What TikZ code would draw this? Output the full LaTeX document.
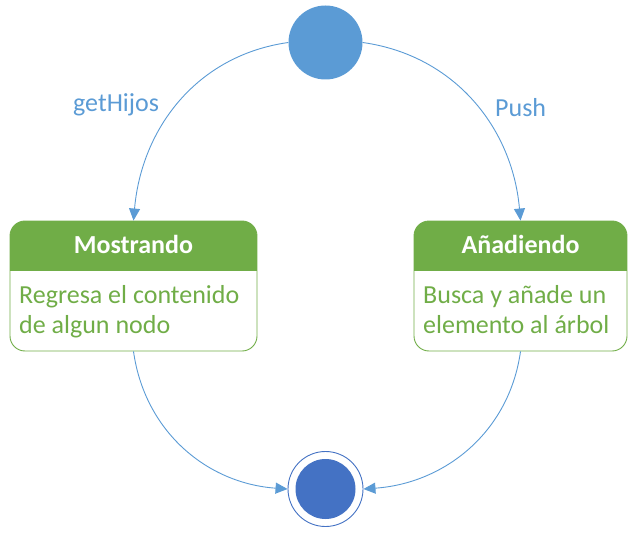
\documentclass[tikz,border=0pt]{standalone}
\usepackage{fontspec}
\setmainfont{Carlito}
\usetikzlibrary{arrows.meta}
\definecolor{lblue}{HTML}{5B9BD5}
\definecolor{dblue}{HTML}{4472C4}
\definecolor{mgreen}{HTML}{70AD47}
\tikzset{
  startst/.style={circle,fill=lblue,minimum size=74pt,inner sep=0pt},
  endst/.style={circle,draw=dblue,line width=0.9pt,fill=white,minimum size=75pt,inner sep=0pt},
  endin/.style={circle,fill=dblue,minimum size=60pt,inner sep=0pt},
  statebox/.style={draw=mgreen,line width=0.9pt,rounded corners=15pt,minimum width=#1,minimum height=130pt,inner sep=0pt},
  headtxt/.style={text=white,font=\fontsize{26}{30}\selectfont\bfseries,anchor=base,inner sep=0pt},
  bodytxt/.style={text=mgreen,font=\fontsize{26}{30}\selectfont,anchor=base west,inner sep=0pt},
  lbl/.style={text=lblue,font=\fontsize{26}{30}\selectfont,anchor=base west,inner sep=0pt},
  conn/.style={draw=lblue,line width=0.9pt,-{Triangle[length=12pt,width=11pt]}},
}
\begin{document}
\begin{tikzpicture}[x=1pt,y=-1pt]
\useasboundingbox (0,0) rectangle (636,537);
% start state
\node[startst] (s) at (325.5,42.5) {};
% Mostrando box
\begin{scope}
\clip[rounded corners=15pt] (10,221) rectangle (257,351);
\fill[mgreen] (10,221) rectangle (257,271);
\end{scope}
\node[statebox=247pt] (m) at (133.5,286) {};
\node[headtxt] (mh) at (133.5,253) {Mostrando};
\node[bodytxt] (mb1) at (19,303) {Regresa el contenido};
\node[bodytxt] (mb2) at (19,333) {de algun nodo};
% Anadiendo box
\begin{scope}
\clip[rounded corners=15pt] (414,221) rectangle (627,351);
\fill[mgreen] (414,221) rectangle (627,271);
\end{scope}
\node[statebox=213pt] (a) at (520.5,286) {};
\node[headtxt] (ah) at (520.5,253) {Añadiendo};
\node[bodytxt] (ab1) at (423,303) {Busca y añade un};
\node[bodytxt] (ab2) at (423,333) {elemento al árbol};
% end state
\node[endst] (e) at (325.5,489) {};
\node[endin] (ei) at (325.5,489) {};
% labels
\node[lbl] (l1) at (73,112) {getHijos};
\node[lbl] (l2) at (495,117) {Push};
% connectors
\draw[conn] (s.west) to[out=188,in=85] (m.north);
\draw[conn] (s.east) to[out=-8,in=95] (a.north);
\draw[conn] (m.south) to[out=-82,in=176] (e.west);
\draw[conn] (a.south) to[out=-98,in=4] (e.east);
\end{tikzpicture}
\end{document}
